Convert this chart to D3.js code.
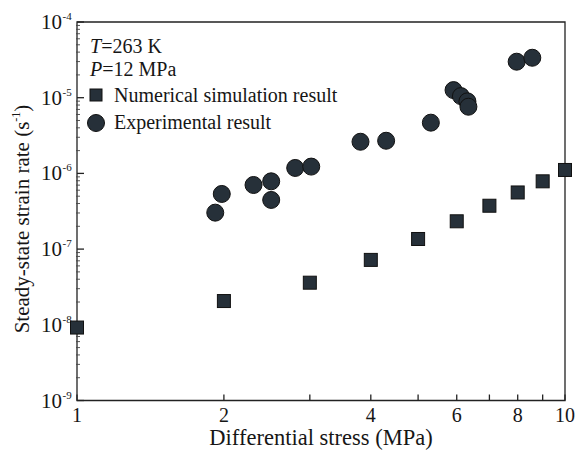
<!DOCTYPE html>
<html>
<head>
<meta charset="utf-8">
<script src="https://cdn.jsdelivr.net/npm/d3@7"></script>
<style>
  html, body { margin: 0; padding: 0; background: #fff; }
  svg text { font-family: "Liberation Serif", "Times New Roman", serif; fill: #161616; }
</style>
</head>
<body>
<div id="chart"></div>
<script>
// chart data
const simStress = [1, 2, 3, 4, 5, 6, 7, 8, 9, 10];
const simRate = [9.2e-9, 2.06e-8, 3.6e-8, 7.2e-8, 1.36e-7, 2.33e-7, 3.74e-7, 5.6e-7, 7.86e-7, 1.11e-6];

const expStress = [1.92, 1.98, 2.3, 2.5, 2.5, 2.8, 3.02, 3.81, 4.3, 5.31, 5.91, 6.12, 6.31, 6.34, 7.96, 8.57];
const expRate = [3.03e-7, 5.35e-7, 7.03e-7, 7.86e-7, 4.46e-7, 1.18e-6, 1.23e-6, 2.62e-6, 2.7e-6, 4.68e-6, 1.26e-5, 1.05e-5, 8.95e-6, 7.6e-6, 2.99e-5, 3.37e-5];

const xTicks = [1, 2, 3, 4, 5, 6, 7, 8, 9, 10];
const xLabels = [1, 2, 4, 6, 8, 10];
const yExponents = [-4, -5, -6, -7, -8, -9];

const width = 577;
const height = 455;
const margin = { top: 22, right: 12, bottom: 55, left: 77 };
const markColor = '#263039';

const svg = d3.select('#chart')
    .append('svg')
    .attr('width', width)
    .attr('height', height);

const x = d3.scaleLog()
    .domain([1, 10])
    .range([margin.left, width - margin.right]);

const y = d3.scaleLog()
    .domain([1e-9, 1e-4])
    .range([height - margin.bottom + 0.5, margin.top]);

// frame
const x0 = x.range()[0], x1 = x.range()[1];
const yb = y.range()[0], yt = y.range()[1];
svg.append('path')
    .attr('d', `M${x0},${yt} L${x1},${yt} L${x1},${yb} L${x0},${yb} Z`)
    .attr('fill', 'none')
    .attr('stroke', '#222')
    .attr('stroke-width', 1.3);

// x axis ticks (inward)
svg.append('g')
    .selectAll('line')
    .data(xTicks)
    .enter()
    .append('line')
    .attr('x1', d => x(d))
    .attr('x2', d => x(d))
    .attr('y1', yb)
    .attr('y2', yb - 6)
    .attr('stroke', '#222')
    .attr('stroke-width', 1.3);

svg.append('g')
    .selectAll('text')
    .data(xLabels)
    .enter()
    .append('text')
    .attr('x', d => x(d))
    .attr('y', yb + 21.5)
    .attr('text-anchor', 'middle')
    .style('font-size', '20px')
    .text(d => d);

// y axis: decade ticks and minor ticks
const minorY = [];
for (let e = -9; e < -4; e++) {
    for (let m = 2; m <= 9; m++) minorY.push(m * Math.pow(10, e));
}

svg.append('g')
    .selectAll('line')
    .data(minorY)
    .enter()
    .append('line')
    .attr('x1', x0 - 1)
    .attr('x2', x0 + 3)
    .attr('y1', d => y(d))
    .attr('y2', d => y(d))
    .attr('stroke', '#444')
    .attr('stroke-width', 0.9);

svg.append('g')
    .selectAll('line')
    .data(yExponents)
    .enter()
    .append('line')
    .attr('x1', x0)
    .attr('x2', x0 + 7)
    .attr('y1', d => y(Math.pow(10, d)))
    .attr('y2', d => y(Math.pow(10, d)))
    .attr('stroke', '#222')
    .attr('stroke-width', 1.3);

const yLab = svg.append('g');
yLab.selectAll('text.base')
    .data(yExponents)
    .enter()
    .append('text')
    .attr('class', 'base')
    .attr('x', 62)
    .attr('y', d => y(Math.pow(10, d)) + 7)
    .attr('text-anchor', 'end')
    .style('font-size', '21px')
    .text('10');
yLab.selectAll('text.exp')
    .data(yExponents)
    .enter()
    .append('text')
    .attr('class', 'exp')
    .attr('x', 62.5)
    .attr('y', d => y(Math.pow(10, d)) - 2)
    .style('font-size', '11px')
    .text(d => d);

// axis titles
svg.append('text')
    .attr('x', (x0 + x1) / 2)
    .attr('y', 445)
    .attr('text-anchor', 'middle')
    .style('font-size', '22.5px')
    .text('Differential stress (MPa)');

const yTitle = svg.append('text')
    .attr('transform', `translate(29, 219) rotate(-90)`)
    .attr('text-anchor', 'middle')
    .style('font-size', '21px');
yTitle.append('tspan').text('Steady-state strain rate (s');
yTitle.append('tspan').attr('dy', -9).style('font-size', '12px').text('-1');
yTitle.append('tspan').attr('dy', 9).text(')');

// numerical simulation: squares
const sq = 13;
svg.append('g')
    .selectAll('rect')
    .data(simStress.map((s, i) => ({ s, r: simRate[i] })))
    .enter()
    .append('rect')
    .attr('x', d => x(d.s) - sq / 2)
    .attr('y', d => y(d.r) - sq / 2)
    .attr('width', sq)
    .attr('height', sq)
    .attr('fill', markColor)
    .attr('stroke', '#111')
    .attr('stroke-width', 1);

// experiment: circles
svg.append('g')
    .selectAll('circle')
    .data(expStress.map((s, i) => ({ s, r: expRate[i] })))
    .enter()
    .append('circle')
    .attr('cx', d => x(d.s))
    .attr('cy', d => y(d.r))
    .attr('r', 8.5)
    .attr('fill', markColor)
    .attr('stroke', '#111')
    .attr('stroke-width', 1);

// conditions and legend
const note = svg.append('g').style('font-size', '20px');
const t1 = note.append('text').attr('x', 90).attr('y', 53);
t1.append('tspan').style('font-style', 'italic').text('T');
t1.append('tspan').text('=263 K');
const t2 = note.append('text').attr('x', 90).attr('y', 76);
t2.append('tspan').style('font-style', 'italic').text('P');
t2.append('tspan').text('=12 MPa');

note.append('rect')
    .attr('x', 90).attr('y', 89)
    .attr('width', 12).attr('height', 12)
    .attr('fill', markColor).attr('stroke', '#111');
note.append('text').attr('x', 114).attr('y', 102).text('Numerical simulation result');

note.append('circle')
    .attr('cx', 96).attr('cy', 123).attr('r', 8.5)
    .attr('fill', markColor).attr('stroke', '#111');
note.append('text').attr('x', 114).attr('y', 128.5).text('Experimental result');
</script>
</body>
</html>
